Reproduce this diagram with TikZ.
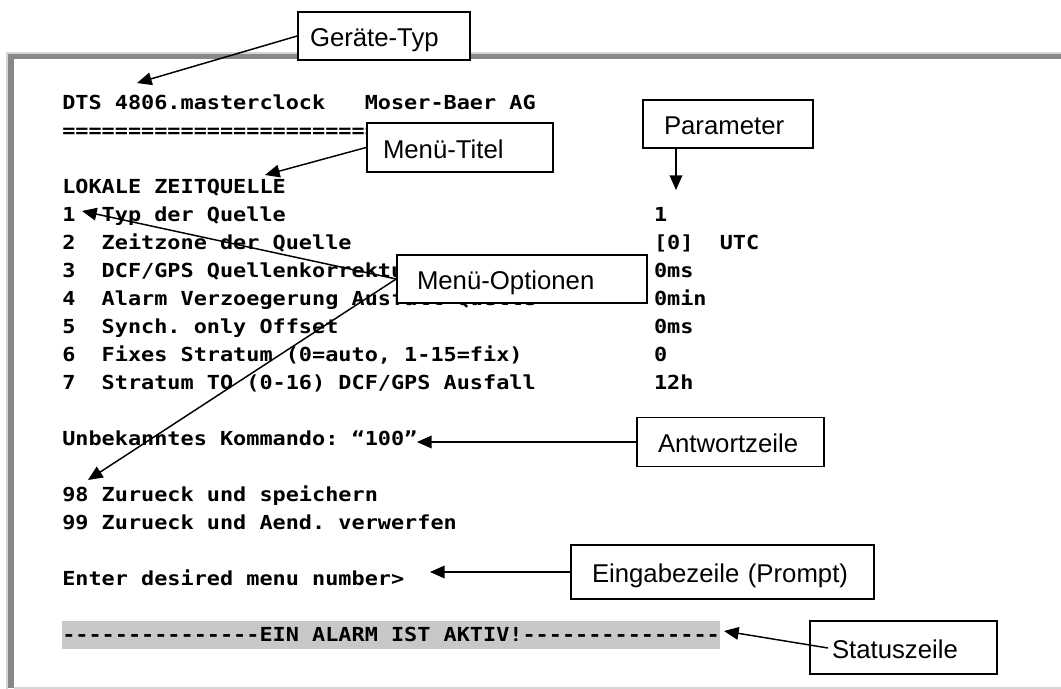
\documentclass[tikz,border=0pt]{standalone}
\usepackage{fontspec}
\setmainfont{Liberation Sans}
\newfontfamily\termfont{DejaVu Sans Mono}[FakeStretch=1.13]
\usetikzlibrary{arrows.meta}
\definecolor{framedark}{HTML}{888888}
\definecolor{framelight}{HTML}{D6D6D6}
\definecolor{hilite}{HTML}{C8C8C8}
\tikzset{
  term/.style={anchor=base west, inner sep=0pt, font=\termfont\bfseries\fontsize{14.5pt}{16pt}\selectfont\frenchspacing},
  cbox/.style={draw=black, fill=white, line width=1.3pt, inner ysep=0pt, align=left,
    text height=16pt, text depth=0pt, font=\fontsize{19.3pt}{22pt}\selectfont},
  arr/.style={line width=1.1pt, -{Triangle[length=11pt,width=9.5pt]}}
}
\begin{document}
\begin{tikzpicture}[x=0.75pt,y=-0.75pt]
\useasboundingbox (0,0) rectangle (1061,689);
% frame
\draw[framelight, line width=1.5pt] (7,689) -- (7,52.5) -- (1061,52.5);
\fill[framedark] (8,53.5) rectangle (1061,59);
\fill[framedark] (8,53.5) rectangle (13.5,688);
\draw[framelight, line width=1.5pt] (13.5,688) -- (1061,688);
% status highlight
\fill[hilite] (62,621) rectangle (719.5,649);
% terminal text
\node[term] (l0) at (62,109) {DTS 4806.masterclock~~~Moser-Baer AG};
\node[term] (l1) at (62,137) {====================================};
\node[term] (l3) at (62,193) {LOKALE ZEITQUELLE};
\node[term] (r1) at (62,221) {1~~Typ der Quelle};
\node[term] (r2) at (62,249) {2~~Zeitzone der Quelle};
\node[term] (r3) at (62,277) {3~~DCF/GPS Quellenkorrektur};
\node[term] (r4) at (62,305) {4~~Alarm Verzoegerung Ausfall Quelle};
\node[term] (r5) at (62,333) {5~~Synch. only Offset};
\node[term] (r6) at (62,361) {6~~Fixes Stratum (0=auto, 1-15=fix)};
\node[term] (r7) at (62,389) {7~~Stratum TO (0-16) DCF/GPS Ausfall};
\node[term] (p1) at (653.75,221) {1};
\node[term] (p2) at (653.75,249) {[0]~~UTC};
\node[term] (p3) at (653.75,277) {0ms};
\node[term] (p4) at (653.75,305) {0min};
\node[term] (p5) at (653.75,333) {0ms};
\node[term] (p6) at (653.75,361) {0};
\node[term] (p7) at (653.75,389) {12h};
\node[term] (ans) at (62,445) {Unbekanntes Kommando: “100”};
\node[term] (b98) at (62,501) {98 Zurueck und speichern};
\node[term] (b99) at (62,529) {99 Zurueck und Aend. verwerfen};
\node[term] (prm) at (62,585) {Enter desired menu number>};
\node[term] (sta) at (62,641) {---------------EIN ALARM IST AKTIV!---------------};
% callout boxes
\node[cbox, inner xsep=9pt, text width=111pt, minimum height=36pt] (gt) at (384,36) {Geräte-Typ};
\node[cbox, inner xsep=12pt, text width=115.5pt, minimum height=36.75pt] (mt) at (460,147.5) {Menü-Titel};
\node[cbox, inner xsep=15.75pt, text width=96pt, minimum height=36pt] (pa) at (728,124) {Parameter};
\node[cbox, inner xsep=15pt, text width=157.5pt, minimum height=36pt] (mo) at (522,279) {Menü-Optionen};
\node[cbox, inner xsep=15.75pt, text width=108.75pt, minimum height=36.75pt] (aw) at (730.5,442) {Antwortzeile};
\node[cbox, inner xsep=15.75pt, text width=195.75pt, minimum height=40.5pt] (ez) at (722.5,572) {Eingabezeile (Prompt)};
\node[cbox, inner xsep=16.5pt, text width=107.25pt, minimum height=39.75pt] (st) at (903.5,647.5) {Statuszeile};
% arrow targets
\coordinate (tGT) at (137,83);
\coordinate (tMT) at (265,175);
\coordinate (tPA) at (676,190);
\coordinate (tMO1) at (82,211);
\coordinate (tMO2) at (88,480);
\coordinate (tAW) at (417,442);
\coordinate (tEZ) at (430,572);
\coordinate (sST) at (828,648);
\coordinate (tST) at (724,631);
% arrows
\draw[arr] (gt.west) -- (tGT);
\draw[arr] (mt.west) -- (tMT);
\draw[arr] (pa.south -| tPA) -- (tPA);
\draw[arr] (mo.west) -- (tMO1);
\draw[arr] (mo.west) -- (tMO2);
\draw[arr] (aw.west) -- (tAW);
\draw[arr] (ez.west) -- (tEZ);
\draw[arr] (sST) -- (tST);
\end{tikzpicture}
\end{document}
